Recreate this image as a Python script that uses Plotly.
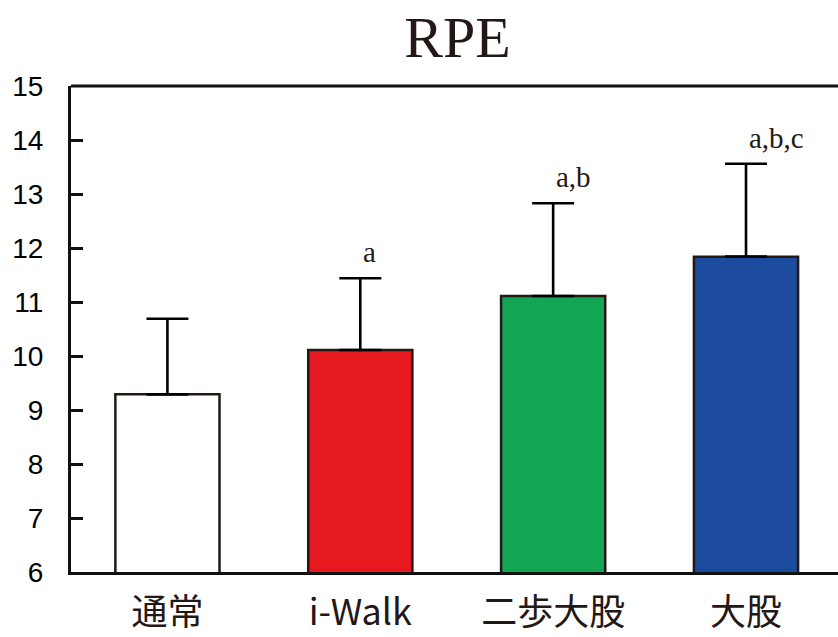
import plotly.graph_objects as go

# RPE by walking condition (mean + SD)
categories = ["通常", "i-Walk", "二歩大股", "大股"]
rpe_mean = [9.29, 10.11, 11.11, 11.84]
rpe_sd = [1.40, 1.33, 1.72, 1.72]
sig_labels = ["", "a", "a,b", "a,b,c"]
bar_colors = ["#FFFFFF", "#E61A1E", "#13A655", "#1C4A9C"]
y_ticks = list(range(6, 16))

INK = "#231815"
AXIS = "#111111"

fig = go.Figure()
fig.add_trace(go.Bar(
    x=categories,
    y=rpe_mean,
    base=0,
    width=0.54,
    marker=dict(color=bar_colors, line=dict(color=INK, width=2.5)),
    error_y=dict(type="data", symmetric=False, array=rpe_sd,
                 arrayminus=[0] * len(rpe_sd),
                 color="#000000", thickness=2.6, width=21),
    showlegend=False,
))

for cat, m, sd, lab in zip(categories, rpe_mean, rpe_sd, sig_labels):
    if lab:
        fig.add_annotation(
            x=cat, y=m + sd, text=lab, showarrow=False,
            xanchor="left", yanchor="bottom", xshift=1, yshift=8,
            font=dict(family="Liberation Serif", size=29, color=INK),
        )

# top frame line of the plotting area
fig.add_shape(type="line", xref="paper", yref="paper", x0=0, x1=1.01, y0=1, y1=1,
              line=dict(color=AXIS, width=3))

fig.update_layout(
    width=838, height=637,
    margin=dict(l=71, r=0, t=86, b=65),
    paper_bgcolor="white", plot_bgcolor="white",
    title=dict(text="RPE", x=0.546, xref="container", xanchor="center",
               y=1 - 37 / 637, yref="container", yanchor="middle",
               font=dict(family="Liberation Serif", size=58, color=INK)),
)
fig.update_xaxes(
    range=[-0.5, 3.477], showline=True, linecolor=AXIS, linewidth=3,
    mirror=False, ticks="", showgrid=False, ticklabelstandoff=7,
    automargin=False,
    tickfont=dict(family="Noto Sans CJK JP", size=36, color=INK),
)
fig.update_yaxes(
    range=[6, 15], tickvals=y_ticks, showline=True, linecolor=AXIS,
    linewidth=3, ticks="inside", ticklen=12, tickwidth=3, tickcolor=AXIS,
    showgrid=False, zeroline=False, ticklabelstandoff=19, mirror=False,
    automargin=False,
    tickfont=dict(family="Liberation Sans", size=28, color="#000000"),
)

fig.write_html("out.html")
